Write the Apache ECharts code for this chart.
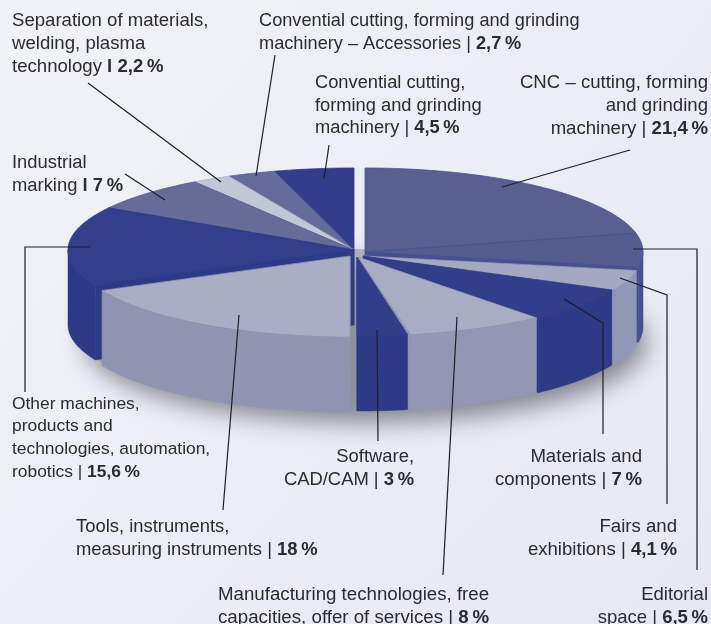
<!DOCTYPE html>
<html>
<head>
<meta charset="utf-8">
<style>
  html, body { margin: 0; padding: 0; }
  #chart { width: 711px; height: 624px; }
</style>
<script src="https://cdn.jsdelivr.net/npm/echarts@6/dist/echarts.min.js"></script>
</head>
<body>
<div id="chart"></div>
<script>
  // clockwise from 12 o'clock, same order as the pie
  var categories = [
    'CNC – cutting, forming\nand grinding\nmachinery',
    'Editorial\nspace',
    'Fairs and\nexhibitions',
    'Materials and\ncomponents',
    'Manufacturing technologies, free\ncapacities, offer of services',
    'Software,\nCAD/CAM',
    'Tools, instruments,\nmeasuring instruments',
    'Other machines,\nproducts and\ntechnologies, automation,\nrobotics',
    'Industrial\nmarking',
    'Separation of materials,\nwelding, plasma\ntechnology',
    'Convential cutting, forming and grinding\nmachinery – Accessories',
    'Convential cutting,\nforming and grinding\nmachinery'
  ];
  var values = [21.4, 6.5, 4.1, 7, 8, 3, 18, 15.6, 7, 2.2, 2.7, 4.5];

  var topColors = ['#595f90', '#555c90', '#a4a9c1', '#323e8a', '#a8adc3', '#323e8a', '#a9aec4', '#333f8a', '#666b97', '#c2c7d6', '#646a99', '#323e8a'];
  var wallColors = ['#4a5290', '#47508f', '#9197b7', '#2f3a87', '#9397b3', '#2f3a87', '#8f94b1', '#2f3a87', '#555b8f', '#a9aec4', '#555b8f', '#2f3a87'];

  // exploded pieces: centre and radii of every slice
  var centres = [
    [365, 252, 278, 84], [365, 252, 278, 84],
    [363, 256, 278, 80], [363, 256, 275, 80],
    [358, 257, 280, 79], [357, 257, 270, 79],
    [350, 256, 274, 81],
    [354, 250, 286, 82], [354, 250, 286, 82], [354, 250, 286, 82], [354, 250, 286, 82], [354, 250, 286, 82]
  ];
  var depth = 75;
  // back pieces first
  var drawOrder = [0, 1, 11, 10, 9, 8, 7, 2, 3, 4, 5, 6];

  // [anchor x, first line y, align, font size]
  var labelPos = [
    [708, 83, 'right', 18.6], [708, 595, 'right', 18.5], [677, 527, 'right', 18.6], [642, 457, 'right', 18.6],
    [218, 595, 'left', 18.7], [414, 457, 'right', 18.4], [76, 527, 'left', 18.4], [12, 404, 'left', 17.4],
    [12, 163, 'left', 18.4], [12, 21, 'left', 18.6], [259, 21, 'left', 18.2], [315, 83, 'left', 18.3]
  ];
  var boldBar = [8, 9];
  var leaders = [
    [[630, 150], [502, 187]],
    [[633, 249], [697, 249], [697, 570]],
    [[620, 278], [667, 295], [667, 504]],
    [[564, 299], [603, 323], [603, 434]],
    [[457, 317], [443, 575]],
    [[377, 330], [378, 441]],
    [[239, 315], [223, 510]],
    [[90, 247], [25, 247], [25, 392]],
    [[125, 174], [165, 200]],
    [[88, 83], [221, 182]],
    [[275, 55], [256, 176]],
    [[329, 145], [324, 179]]
  ];

  var total = values.reduce(function (a, b) { return a + b; }, 0);
  var startAngles = [];
  values.reduce(function (sum, v, i) {
    startAngles[i] = sum / total * 360;
    return sum + v;
  }, 0);

  function arcPoints(c, from, to, drop) {
    var pts = [];
    var n = Math.max(2, Math.ceil((to - from) / 1.5));
    for (var i = 0; i <= n; i++) {
      var a = (from + (to - from) * i / n) * Math.PI / 180;
      pts.push([c[0] + c[2] * Math.sin(a), c[1] - c[3] * Math.cos(a) + drop]);
    }
    return pts;
  }

  function renderSlice(params, api) {
    var idx = api.value(0);
    var from = startAngles[idx];
    var to = from + api.value(1) / total * 360;
    var c = centres[idx];
    var children = [];
    var wallStyle = { fill: wallColors[idx], stroke: wallColors[idx], lineWidth: 0.5 };
    // cut face: from the rim back to the centre, it faces the viewer on the near side
    var cutAngle = to <= 180 ? to : (from >= 180 ? from : null);
    if (cutAngle !== null) {
      var rim = arcPoints(c, cutAngle, cutAngle, 0)[0];
      children.push({
        type: 'polygon',
        shape: { points: [[c[0], c[1]], rim, [rim[0], rim[1] + depth], [c[0], c[1] + depth]] },
        style: wallStyle
      });
    }
    // only the part of the rim between 90 and 270 degrees faces the viewer
    var wallFrom = Math.max(from, 90);
    var wallTo = Math.min(to, 270);
    if (wallTo > wallFrom) {
      var up = arcPoints(c, wallFrom, wallTo, 0);
      var down = arcPoints(c, wallFrom, wallTo, depth).reverse();
      children.push({
        type: 'polygon',
        shape: { points: up.concat(down) },
        style: wallStyle
      });
    }
    children.push({
      type: 'polygon',
      shape: { points: [[c[0], c[1]]].concat(arcPoints(c, from, to, 0)) },
      style: { fill: topColors[idx], stroke: wallColors[idx], lineWidth: 0.8 }
    });
    return { type: 'group', children: children };
  }

  function pct(v) {
    return String(v).replace('.', ',');
  }

  var graphics = [{
    type: 'ellipse',
    z: -1,
    silent: true,
    shape: { cx: 356, cy: 329, rx: 280, ry: 80 },
    style: {
      fill: 'rgba(150,152,162,0.6)',
      shadowBlur: 24,
      shadowColor: 'rgba(50,52,65,0.95)',
      shadowOffsetX: 10,
      shadowOffsetY: 13
    }
  }];

  leaders.forEach(function (pts) {
    graphics.push({
      type: 'polyline',
      z: 100,
      silent: true,
      shape: { points: pts },
      style: { stroke: '#1e1e24', lineWidth: 1.2, fill: null }
    });
  });

  categories.forEach(function (name, i) {
    var lines = name.split('\n');
    var pos = labelPos[i];
    var rich = {
      n: { fontFamily: 'Liberation Sans', fontSize: pos[3], fill: '#2b2b30' },
      b: { fontFamily: 'Liberation Sans', fontSize: pos[3], fontWeight: 'bold', fill: '#2b2b30' }
    };
    lines.forEach(function (line, j) {
      var text = '{n|' + line + '}';
      if (j === lines.length - 1) {
        var bar = boldBar.indexOf(i) >= 0 ? '{n| }{b|l }' : '{n| | }';
        text = '{n|' + line + '}' + bar + '{b|' + pct(values[i]) + '\u2009%}';
      }
      graphics.push({
        type: 'text',
        z: 100,
        silent: true,
        style: {
          x: pos[0],
          y: pos[1] + j * 22.7,
          text: text,
          rich: rich,
          align: pos[2],
          verticalAlign: 'middle'
        }
      });
    });
  });

  var chart = echarts.init(document.getElementById('chart'));
  chart.setOption({
    animation: false,
    backgroundColor: new echarts.graphic.LinearGradient(0, 0, 1, 1, [
      { offset: 0, color: '#f1f2f7' },
      { offset: 1, color: '#e6e9f3' }
    ]),
    graphic: graphics,
    series: [{
      type: 'custom',
      coordinateSystem: 'none',
      silent: true,
      renderItem: renderSlice,
      data: drawOrder.map(function (i) { return [i, values[i]]; })
    }]
  });
</script>
</body>
</html>
